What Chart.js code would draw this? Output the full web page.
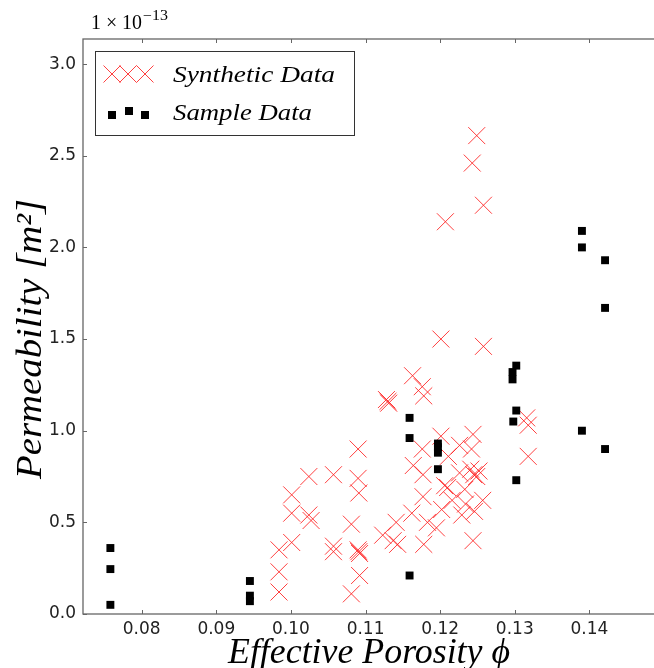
<!DOCTYPE html>
<html>
<head>
<meta charset="utf-8">
<script src="https://cdn.jsdelivr.net/npm/chart.js@4/dist/chart.umd.min.js"></script>
<style>
  html, body { margin: 0; padding: 0; background: #fff; overflow: hidden; }
  #wrap { width: 680px; height: 668px; }
</style>
</head>
<body>
<div id="wrap"><canvas id="c" width="680" height="668"></canvas></div>
<script>
// porosity / permeability (x 1e-13 m^2)
const synthX = [0.1249, 0.1243, 0.1258, 0.1207, 0.1201, 0.1258, 0.1163, 0.1176, 0.1178, 0.1128, 0.1131, 0.1130,
  0.1316, 0.1318, 0.1318, 0.1201, 0.1244, 0.1176, 0.1226, 0.1242, 0.1211, 0.1164, 0.1177, 0.1226,
  0.1241, 0.1245, 0.1249, 0.1252, 0.1206, 0.1177, 0.1090, 0.1024, 0.1057, 0.1090, 0.1091, 0.1001,
  0.1001, 0.1024, 0.1027, 0.1081, 0.1001, 0.0984, 0.1057, 0.1057, 0.1090, 0.1092, 0.1091, 0.0984,
  0.1092, 0.0984, 0.1081, 0.1141, 0.1162, 0.1123, 0.1137, 0.1143, 0.1178, 0.1183, 0.1195, 0.1202,
  0.1216, 0.1229, 0.1234, 0.1246, 0.1257, 0.1244, 0.1210, 0.1233];
const synthY = [2.61, 2.46, 2.23, 2.14, 1.50, 1.46, 1.30, 1.24, 1.19, 1.17, 1.15, 1.16,
  1.07, 1.03, 0.86, 0.97, 0.98, 0.90, 0.92, 0.90, 0.86, 0.81, 0.76, 0.77,
  0.79, 0.76, 0.75, 0.78, 0.70, 0.64, 0.90, 0.75, 0.76, 0.74, 0.66, 0.65,
  0.55, 0.54, 0.51, 0.49, 0.39, 0.35, 0.37, 0.34, 0.35, 0.33, 0.34, 0.23,
  0.21, 0.12, 0.11, 0.50, 0.55, 0.43, 0.40, 0.38, 0.38, 0.50, 0.47, 0.57,
  0.62, 0.54, 0.60, 0.56, 0.62, 0.40, 0.69, 0.68];

const sampleX = [0.0758, 0.0758, 0.0758, 0.0945, 0.0945, 0.0945, 0.1159, 0.1159, 0.1159,
  0.1197, 0.1197, 0.1197, 0.1197, 0.1302, 0.1297, 0.1297, 0.1302, 0.1298, 0.1302,
  0.1390, 0.1390, 0.1390, 0.1421, 0.1421, 0.1421];
const sampleY = [0.36, 0.245, 0.05, 0.18, 0.10, 0.07, 1.07, 0.96, 0.21,
  0.93, 0.91, 0.88, 0.79, 1.355, 1.32, 1.28, 1.11, 1.05, 0.73,
  2.09, 2.00, 1.00, 1.93, 1.67, 0.90];

const xTicks = [0.08, 0.09, 0.10, 0.11, 0.12, 0.13, 0.14];
const yTicks = [0.0, 0.5, 1.0, 1.5, 2.0, 2.5, 3.0];

const toPts = (xs, ys) => xs.map((x, i) => ({ x: x, y: ys[i] }));

const red = 'rgba(255,30,30,0.85)';
const tickFont = { family: 'DejaVu Sans', size: 17 };

// draw text squeezed/stretched to a given width
function fitText(ctx, text, x, y, width, font) {
  ctx.save();
  ctx.font = font;
  const w = ctx.measureText(text).width;
  ctx.translate(x, y);
  ctx.scale(width / w, 1);
  ctx.fillText(text, 0, 0);
  ctx.restore();
}

const decor = {
  id: 'decor',
  afterDatasetsDraw(chart) {
    const { ctx, chartArea: a, scales } = chart;
    ctx.save();
    ctx.strokeStyle = '#666';
    ctx.lineWidth = 1.3;
    ctx.strokeRect(a.left, a.top, a.right - a.left, a.bottom - a.top);
    ctx.lineWidth = 1;
    ctx.beginPath();
    xTicks.forEach(v => {
      const px = Math.round(scales.x.getPixelForValue(v)) + 0.5;
      ctx.moveTo(px, a.bottom); ctx.lineTo(px, a.bottom - 4);
      ctx.moveTo(px, a.top); ctx.lineTo(px, a.top + 4);
    });
    yTicks.forEach(v => {
      const py = Math.round(scales.y.getPixelForValue(v)) + 0.5;
      ctx.moveTo(a.left, py); ctx.lineTo(a.left + 4, py);
      ctx.moveTo(a.right, py); ctx.lineTo(a.right - 4, py);
    });
    ctx.stroke();
    ctx.restore();
  },
  afterDraw(chart) {
    const ctx = chart.ctx;
    ctx.save();
    ctx.fillStyle = '#000';
    ctx.textBaseline = 'alphabetic';
    ctx.textAlign = 'left';

    // offset text
    fitText(ctx, '1 \u00d7 10', 91, 29, 51, '20px "Liberation Serif"');
    fitText(ctx, '\u221213', 143, 20, 25, '14px "Liberation Serif"');

    // axis titles
    fitText(ctx, 'Effective Porosity \u03d5', 228, 663, 282, 'italic 35px "Liberation Serif"');
    ctx.save();
    ctx.translate(41, 479);
    ctx.rotate(-Math.PI / 2);
    fitText(ctx, 'Permeability [m\u00b2]', 0, 0, 280, 'italic 36px "Liberation Serif"');
    ctx.restore();

    // legend
    ctx.fillStyle = '#fff';
    ctx.fillRect(95.5, 51.5, 259, 84);
    ctx.strokeStyle = '#333';
    ctx.lineWidth = 1;
    ctx.strokeRect(95.5, 51.5, 259, 84);
    ctx.strokeStyle = red;
    ctx.beginPath();
    [112, 128, 145].forEach(cx => {
      ctx.moveTo(cx - 8.5, 65.5); ctx.lineTo(cx + 8.5, 82.5);
      ctx.moveTo(cx - 8.5, 82.5); ctx.lineTo(cx + 8.5, 65.5);
    });
    ctx.stroke();
    ctx.fillStyle = '#000';
    [[112, 115], [129, 111], [145, 115]].forEach(p => ctx.fillRect(p[0] - 4, p[1] - 4, 8, 8));
    fitText(ctx, 'Synthetic Data', 173, 82, 162, 'italic 24px "Liberation Serif"');
    fitText(ctx, 'Sample Data', 173, 120, 139, 'italic 24px "Liberation Serif"');
    ctx.restore();
  }
};

new Chart(document.getElementById('c'), {
  type: 'scatter',
  data: {
    datasets: [
      {
        label: 'Synthetic Data',
        data: toPts(synthX, synthY),
        pointStyle: 'crossRot',
        radius: 12,
        borderColor: red,
        backgroundColor: red,
        borderWidth: 1,
        order: 2
      },
      {
        label: 'Sample Data',
        data: toPts(sampleX, sampleY),
        pointStyle: 'rect',
        radius: 5.6,
        backgroundColor: '#000',
        borderWidth: 0,
        order: 1
      }
    ]
  },
  options: {
    responsive: false,
    animation: false,
    events: [],
    layout: { padding: { top: 39, right: 16, left: 0, bottom: 0 } },
    plugins: { legend: { display: false }, tooltip: { enabled: false } },
    scales: {
      x: {
        type: 'linear',
        min: 0.07213, max: 0.15,
        afterBuildTicks: s => { s.ticks = xTicks.map(v => ({ value: v })); },
        afterFit: s => { s.height = 54; },
        grid: { display: false, drawTicks: false },
        border: { display: false },
        ticks: { font: tickFont, color: '#222', padding: 5, callback: v => v.toFixed(2) }
      },
      y: {
        type: 'linear',
        min: 0, max: 3.137,
        afterBuildTicks: s => { s.ticks = yTicks.map(v => ({ value: v })); },
        afterFit: s => { s.width = 83; },
        grid: { display: false, drawTicks: false },
        border: { display: false },
        ticks: { font: tickFont, color: '#222', padding: 7, callback: v => v.toFixed(1) }
      }
    }
  },
  plugins: [decor]
});
</script>
</body>
</html>
